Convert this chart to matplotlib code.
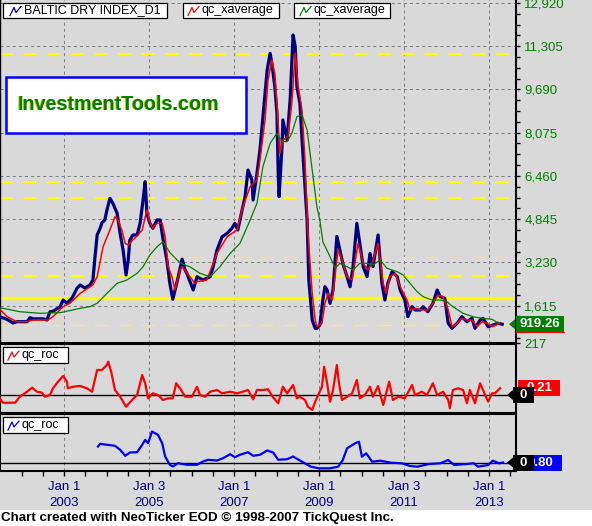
import matplotlib
matplotlib.use("Agg")
import matplotlib.pyplot as plt
from matplotlib.patches import Rectangle, Polygon
from matplotlib.lines import Line2D

# ---------------------------------------------------------------------------
# Data (decimal years, index values)
# ---------------------------------------------------------------------------
bdi_t = [2001.49, 2001.66, 2001.80, 2001.89, 2002.13, 2002.20, 2002.27, 2002.51, 2002.60,
         2002.67, 2002.74, 2002.91, 2002.98, 2003.07, 2003.19, 2003.31, 2003.38, 2003.49,
         2003.61, 2003.68, 2003.73, 2003.78, 2003.85, 2003.89, 2003.96, 2004.01, 2004.08,
         2004.15, 2004.25, 2004.32, 2004.39, 2004.46, 2004.51, 2004.55, 2004.62, 2004.72,
         2004.79, 2004.86, 2004.91, 2004.95, 2005.02, 2005.09, 2005.19, 2005.26, 2005.33,
         2005.42, 2005.49, 2005.56, 2005.66, 2005.78, 2005.85, 2005.89, 2006.04, 2006.13,
         2006.27, 2006.44, 2006.51, 2006.60, 2006.72, 2006.84, 2006.95, 2007.02, 2007.09,
         2007.19, 2007.26, 2007.33, 2007.42, 2007.45, 2007.54, 2007.61, 2007.68, 2007.78,
         2007.85, 2007.89, 2007.96, 2008.01, 2008.04, 2008.06, 2008.13, 2008.15, 2008.25,
         2008.32, 2008.39, 2008.44, 2008.48, 2008.55, 2008.62, 2008.72, 2008.76, 2008.84,
         2008.91, 2008.95, 2009.02, 2009.09, 2009.14, 2009.19, 2009.26, 2009.33, 2009.42,
         2009.49, 2009.56, 2009.66, 2009.73, 2009.80, 2009.89, 2009.96, 2010.04, 2010.13,
         2010.20, 2010.27, 2010.39, 2010.48, 2010.55, 2010.62, 2010.72, 2010.84, 2010.91,
         2011.02, 2011.09, 2011.19, 2011.26, 2011.38, 2011.45, 2011.56, 2011.68, 2011.78,
         2011.85, 2011.96, 2012.04, 2012.13, 2012.25, 2012.36, 2012.48, 2012.60, 2012.67,
         2012.79, 2012.86, 2012.98, 2013.09, 2013.21, 2013.31]
bdi = [1200, 1100, 965, 1013, 1013, 1162, 1120, 1120, 1076,
       1386, 1400, 1573, 1823, 1700, 1898, 2272, 2384, 2272,
       2384, 2570, 3441, 4252, 4502, 4700, 4813, 5186, 5623,
       5436, 5062, 4315, 3691, 2757, 3318, 4065, 4252, 4252,
       4689, 5560, 6245, 5062, 4689, 4502, 4813, 4813, 4100,
       3318, 2447, 1850, 2500, 3350, 2944, 2821, 2197, 2694,
       2570, 2694, 3068, 3691, 4189, 4315, 4502, 4689, 4439,
       5186, 5683, 6680, 6306, 5560, 6556, 7427, 8672, 10416,
       11040, 10666, 9793, 8798, 6556, 5683, 7551, 8548, 7801,
       9295, 11724, 11287, 9793, 9171, 7302, 4813, 2570, 1076,
       766, 766, 889, 1823, 2320, 2197, 1700, 2197, 4200,
       3691, 3194, 2694, 2320, 3068, 4689, 3940, 3068, 2694,
       3568, 3068, 4252, 2447, 1823, 2447, 2881, 2694, 2197,
       1823, 1200, 1573, 1450, 1450, 1573, 1386, 1700, 2197,
       1947, 1887, 953, 766, 953, 1200, 1013, 1138, 766,
       1076, 1138, 826, 889, 953, 919]

fast_t = [2001.49, 2001.66, 2001.89, 2002.13, 2002.27, 2002.62, 2002.74, 2002.98, 2003.14,
          2003.38, 2003.68, 2003.78, 2003.92, 2004.08, 2004.20, 2004.27, 2004.36, 2004.44,
          2004.51, 2004.62, 2004.74, 2004.84, 2004.95, 2005.02, 2005.09, 2005.19, 2005.31,
          2005.38, 2005.45, 2005.54, 2005.61, 2005.73, 2005.78, 2005.96, 2006.08, 2006.13,
          2006.36, 2006.60, 2006.84, 2007.07, 2007.21, 2007.38, 2007.54, 2007.61, 2007.73,
          2007.80, 2007.89, 2007.96, 2008.01, 2008.08, 2008.15, 2008.27, 2008.36, 2008.44,
          2008.51, 2008.60, 2008.67, 2008.74, 2008.84, 2008.91, 2008.95, 2009.02, 2009.07,
          2009.14, 2009.19, 2009.21, 2009.31, 2009.42, 2009.45, 2009.54, 2009.66, 2009.78,
          2009.92, 2010.04, 2010.15, 2010.25, 2010.39, 2010.51, 2010.58, 2010.67, 2010.79,
          2010.91, 2011.07, 2011.14, 2011.26, 2011.42, 2011.56, 2011.68, 2011.80, 2011.92,
          2012.04, 2012.13, 2012.25, 2012.36, 2012.48, 2012.60, 2012.72, 2012.84, 2012.95,
          2013.09, 2013.26]
fast_avg = [1476, 1200, 1013, 1013, 1076, 1076, 1200, 1573, 1700,
            2074, 2384, 2694, 3815, 4439, 4936, 4813, 4439, 3940,
            3878, 4065, 4252, 4439, 5186, 4751, 4502, 4689, 4689,
            4189, 3068, 2694, 2200, 2944, 3068, 2694, 2447, 2507,
            2570, 3568, 4189, 4439, 5309, 6058, 6306, 7053, 8548,
            10043, 10790, 10292, 9171, 7302, 7801, 7925, 9171, 11040,
            9793, 8922, 7053, 4315, 2074, 1076, 826, 889, 953,
            1700, 1947, 2074, 1823, 3318, 3691, 3318, 2694, 2570,
            3940, 3194, 2944, 3194, 3940, 2447, 2074, 2694, 2819,
            2320, 1823, 1450, 1512, 1450, 1450, 1700, 2010, 1947,
            1450, 826, 953, 1138, 1076, 1076, 826, 1013, 953,
            826, 976]

slow_t = [2001.49, 2001.96, 2002.44, 2002.91, 2003.38, 2003.61, 2003.78, 2004.01, 2004.25,
          2004.48, 2004.72, 2004.86, 2005.02, 2005.19, 2005.33, 2005.49, 2005.66, 2005.80,
          2005.96, 2006.20, 2006.44, 2006.67, 2006.91, 2007.14, 2007.38, 2007.54, 2007.68,
          2007.85, 2008.01, 2008.13, 2008.25, 2008.36, 2008.48, 2008.60, 2008.72, 2008.84,
          2008.95, 2009.02, 2009.09, 2009.26, 2009.38, 2009.49, 2009.66, 2009.80, 2009.96,
          2010.13, 2010.27, 2010.44, 2010.60, 2010.84, 2010.98, 2011.14, 2011.31, 2011.45,
          2011.66, 2011.85, 2012.01, 2012.15, 2012.39, 2012.62, 2012.86, 2013.07, 2013.21]
slow_avg = [1536, 1386, 1326, 1350, 1513, 1573, 1700, 2074, 2447,
            2570, 2819, 3068, 3504, 3815, 4002, 3600, 3318, 3150,
            3068, 2819, 2694, 3068, 3568, 3940, 4813, 5436, 6805,
            7676, 8050, 7738, 7738, 8050, 8672, 8735, 8175, 6680,
            5309, 4813, 4000, 3441, 3007, 3194, 3068, 2944, 3194,
            3194, 3131, 3318, 3007, 2881, 2757, 2447, 2133, 1947,
            1823, 1823, 1760, 1573, 1326, 1200, 1138, 1101, 976]

roc1_t = [2001.49, 2001.56, 2001.85, 2001.96, 2002.13, 2002.25, 2002.36, 2002.48, 2002.55,
          2002.67, 2002.74, 2002.86, 2002.98, 2003.07, 2003.09, 2003.21, 2003.38, 2003.54,
          2003.66, 2003.78, 2003.89, 2004.01, 2004.04, 2004.11, 2004.20, 2004.32, 2004.46,
          2004.60, 2004.72, 2004.84, 2004.91, 2004.98, 2005.09, 2005.21, 2005.33, 2005.45,
          2005.56, 2005.64, 2005.73, 2005.85, 2006.01, 2006.13, 2006.20, 2006.32, 2006.44,
          2006.60, 2006.72, 2006.91, 2007.07, 2007.21, 2007.33, 2007.45, 2007.54, 2007.68,
          2007.80, 2007.92, 2008.04, 2008.15, 2008.25, 2008.39, 2008.48, 2008.55, 2008.67,
          2008.74, 2008.84, 2008.91, 2008.98, 2009.07, 2009.12, 2009.19, 2009.26, 2009.33,
          2009.42, 2009.47, 2009.54, 2009.66, 2009.78, 2009.89, 2009.96, 2010.08, 2010.20,
          2010.27, 2010.39, 2010.51, 2010.65, 2010.74, 2010.86, 2011.02, 2011.19, 2011.26,
          2011.42, 2011.54, 2011.68, 2011.78, 2011.92, 2012.04, 2012.08, 2012.15, 2012.27,
          2012.39, 2012.48, 2012.55, 2012.67, 2012.79, 2012.91, 2012.98, 2013.07, 2013.14,
          2013.26]
roc1 = [-3.3, -7.7, -7.7, -1.7, 3.3, 7.3, 3.3, 2.3, -1.7,
        0, 6.7, 13.3, 19, 13.3, 6.7, 8.3, 9, 6.7,
        3.3, 25, 25, 30, 33.3, 23.3, 5, -1.7, -11.7,
        -5, 0, 20, 11.7, -3.3, 1.7, 0, -5, -3.3,
        -3.3, 11.7, 6.7, -1.7, -1.7, 8.3, 0, -1.7, 3.3,
        5, 1.7, 3.3, 1.7, 3.3, 5, -4.3, 5, 5,
        5.7, -2.3, -8.3, 8.3, 1.7, 10, -3.3, -1.7, -5,
        -11.7, -15, -6.7, 0, 8.3, 28.3, 11.7, -6.7, 5,
        30, 11.7, -5, -1.7, 1.7, 15, -3.3, 0, 8.3,
        -1.7, 9, -10, 13.3, -5, -1.7, -3.3, 10, 0,
        3.3, 0, 11.7, 0, 3.3, -5, -13.3, 5, 6.7,
        5, -8.3, 5, -8.3, 11.7, 0, -6.7, 1.7, 1.7,
        6.7]

roc2_t = [2003.80, 2003.85, 2004.01, 2004.20, 2004.32, 2004.44, 2004.55, 2004.72, 2004.84,
          2004.91, 2004.98, 2005.07, 2005.14, 2005.21, 2005.31, 2005.38, 2005.49, 2005.56,
          2005.68, 2005.89, 2006.13, 2006.27, 2006.39, 2006.60, 2006.74, 2006.91, 2007.02,
          2007.14, 2007.33, 2007.45, 2007.61, 2007.78, 2007.92, 2008.04, 2008.25, 2008.39,
          2008.55, 2008.81, 2009.00, 2009.26, 2009.45, 2009.56, 2009.66, 2009.85, 2009.94,
          2010.01, 2010.11, 2010.25, 2010.44, 2010.69, 2010.95, 2011.14, 2011.31, 2011.59,
          2011.85, 2012.04, 2012.18, 2012.48, 2012.64, 2012.74, 2012.98, 2013.09, 2013.24,
          2013.33]
roc2 = [16, 18.7, 17.7, 16.7, 12.7, 6.7, 10, 10.3, 17.7,
        22.7, 19.3, 31, 29.3, 27.7, 19.3, 6, -2.3, -4,
        -0.7, -2.3, -2.3, 1, 2.7, 2, 4.3, 8.3, 5.3,
        7.7, 10.3, 6.7, 7.7, 12, 10, 2.7, 3.3, 6,
        2, -4.2, -5.8, -5.8, -4.2, 2.5, 14.2, 19.2, 20.8,
        5.8, 9.2, 0.8, 1.8, -0.2, -0.8, -3.5, -4.2, -1.5,
        -0.8, 2.5, -2.5, -1.5, -0.8, -4.2, -2.5, 1.8, -0.8,
        0]

# horizontal yellow reference levels
level_vals = [11003, 6221, 5623, 3419, 2709, 1887, 889]
level_kind = ["dash", "dash", "dash", "thin", "dash", "solid", "thin"]

price_ticks = [217, 1615, 3230, 4845, 6460, 8075, 9690, 11305, 12920]
year_ticks = [2003, 2005, 2007, 2009, 2011, 2013]
year_labels = ["Jan 1\n2003", "Jan 3\n2005", "Jan 1\n2007", "Jan 1\n2009",
               "Jan 3\n2011", "Jan 1\n2013"]
last_labels = ["919.26", "0.21", "0.80"]

# ---------------------------------------------------------------------------
# Figure layout (pixel helpers)
# ---------------------------------------------------------------------------
W, H = 592, 526
BG = "#D9D9D9"
GREEN = "#008000"
NAVY = "#000080"

plt.rcParams["font.family"] = ["Liberation Sans", "DejaVu Sans"]
plt.rcParams["lines.scale_dashes"] = False


def fx(x):
    return x / W


def fy(y):
    return 1 - y / H


fig = plt.figure(figsize=(W / 100, H / 100), dpi=100, facecolor=BG)
fig.add_artist(Rectangle((0, 0), 1, fy(510), transform=fig.transFigure,
                         fc="white", ec="none", zorder=0))

X0, X1 = 2001.494, 2013.635
ax = fig.add_axes([0, fy(343), fx(516), 343 / H])
ax1 = fig.add_axes([0, fy(413), fx(516), 69 / H])
ax2 = fig.add_axes([0, fy(471), fx(516), 57 / H])

grid_kw = dict(color="#808080", lw=0.75, ls=(0, (2.2, 2.2)), zorder=1)

for a in (ax, ax1, ax2):
    a.set_facecolor(BG)
    a.set_xlim(X0, X1)
    for yr in year_ticks:
        a.axvline(yr, **grid_kw)
    for s in a.spines.values():
        s.set_color("black")
        s.set_linewidth(1.5)
    a.tick_params(bottom=False, labelbottom=False, left=False, labelleft=False)

# ---------------------------------------------------------------------------
# Main panel
# ---------------------------------------------------------------------------
ax.set_ylim(217, 13031)
ax.spines["top"].set_visible(False)
ax.spines["left"].set_linewidth(1.0)
for v in price_ticks[1:]:
    ax.axhline(v, **grid_kw)
for v, kind in zip(level_vals, level_kind):
    if kind == "solid":
        ax.axhline(v, color="yellow", lw=2.4, zorder=2)
    elif kind == "thin":
        ax.axhline(v, color="yellow", lw=0.8, ls=(0, (9.5, 7.5)), zorder=2)
    else:
        ax.axhline(v, color="yellow", lw=1.5, ls=(0, (9.5, 7.5)), zorder=2)

ax.plot(bdi_t, bdi, color=NAVY, lw=2.3, zorder=3)
ax.plot(fast_t, fast_avg, color="red", lw=1.1, zorder=4)
ax.plot(slow_t, slow_avg, color=GREEN, lw=0.9, zorder=5)

ax.yaxis.tick_right()
ax.set_yticks(price_ticks, [f"{v:,}" for v in price_ticks])
ax.set_yticks([1615 + 403.75 * k for k in range(-3, 29) if 217 < 1615 + 403.75 * k < 13031
               and k % 4 != 0], minor=True)
ax.tick_params(axis="y", which="both", right=True, labelright=True, direction="out",
               length=3, width=1, color="black", labelcolor=GREEN, labelsize=9.5, pad=3)

# ---------------------------------------------------------------------------
# ROC panels
# ---------------------------------------------------------------------------
ax1.set_ylim(-18, 51)
ax1.axhline(0, color="black", lw=1, zorder=2)
ax1.plot(roc1_t, roc1, color="red", lw=1.6, zorder=3)

ax2.set_ylim(-8.5, 48.5)
ax2.axhline(0, color="black", lw=1, zorder=2)
ax2.plot(roc2_t, roc2, color="blue", lw=1.6, zorder=3)

ax2.set_xticks(year_ticks, year_labels)
ax2.set_xticks([2002 + 0.5 * k for k in range(24)], minor=True)
ax2.tick_params(axis="x", which="both", bottom=True, labelbottom=True, direction="out",
                length=3.5, width=1, color="black", labelcolor=NAVY, labelsize=9.5, pad=4)
for lab in ax2.get_xticklabels():
    lab.set_linespacing(1.4)

# ---------------------------------------------------------------------------
# Legend boxes, logo, value tags
# ---------------------------------------------------------------------------
def legend_box(x0, x1, y0, y1, icon_x, color, text):
    fig.add_artist(Rectangle((fx(x0), fy(y1)), fx(x1) - fx(x0), (y1 - y0) / H,
                             transform=fig.transFigure, fc="white", ec="black",
                             lw=0.9, zorder=10))
    yc = (y0 + y1) / 2
    xs = [icon_x, icon_x + 4, icon_x + 6, icon_x + 11]
    ys = [yc + 5, yc - 3, yc + 2, yc - 4]
    fig.add_artist(Line2D([fx(v) for v in xs], [fy(v) for v in ys],
                          transform=fig.transFigure, color=color, lw=0.9, zorder=11))
    fig.text(fx(icon_x + 14), fy(yc), text, fontsize=9, va="center", ha="left",
             color="black", zorder=11)


legend_box(3, 167, 3, 18, 10, NAVY, "BALTIC DRY INDEX_D1")
legend_box(183, 279, 3, 18, 188, "red", "qc_xaverage")
legend_box(294, 390, 3, 18, 300, GREEN, "qc_xaverage")
legend_box(3, 68, 347, 363, 8, "red", "qc_roc")
legend_box(3, 68, 417, 433, 8, "blue", "qc_roc")

fig.add_artist(Rectangle((fx(6), fy(133)), fx(246) - fx(6), (133 - 77) / H,
                         transform=fig.transFigure, fc="white", ec="blue",
                         lw=1.8, zorder=10))
fig.text(fx(17), fy(104), "InvestmentTools.com", fontsize=14.2, fontweight="bold",
         color="#C8C800", va="center", ha="left", zorder=11)
fig.text(fx(18), fy(104), "InvestmentTools.com", fontsize=14.2, fontweight="bold",
         color=GREEN, va="center", ha="left", zorder=12)


def y_px(a, val):
    # pixel row (from the top) of a data value on axes a
    return H - a.transData.transform((X0, val))[1]


def tag(y, x0, x1, color, text, z=20):
    fig.add_artist(Rectangle((fx(x0), fy(y + 8)), fx(x1) - fx(x0), 16 / H,
                             transform=fig.transFigure, fc=color, ec="none", zorder=z))
    fig.text(fx((x0 + x1) / 2), fy(y), text, fontsize=9.5, fontweight="bold",
             color="white", ha="center", va="center", zorder=z + 1)


def arrow(y, x_tip, color, z=22):
    fig.add_artist(Polygon([(fx(x_tip), fy(y)), (fx(x_tip + 6), fy(y - 5)),
                            (fx(x_tip + 6), fy(y + 5))], closed=True,
                           transform=fig.transFigure, fc=color, ec="none", zorder=z))


yg = y_px(ax, 919.26)
arrow(yg, 509, GREEN)
tag(yg, 516, 564, GREEN, last_labels[0])
fig.add_artist(Line2D([fx(516), fx(564)], [fy(yg + 8), fy(yg + 8)],
                      transform=fig.transFigure, color="red", lw=0.8, zorder=22))

yr1 = y_px(ax1, roc1[-1])
y01 = y_px(ax1, 0)
tag(yr1, 518, 560, "red", last_labels[1])
arrow(y01, 507, "black", z=24)
tag(y01, 513, 534, "black", "0", z=24)

yr2 = y_px(ax2, roc2[-1])
y02 = y_px(ax2, 0)
tag(yr2, 519, 562, "blue", last_labels[2])
arrow(y02, 507, "black", z=24)
tag(y02, 513, 534, "black", "0", z=24)

fig.text(fx(1), fy(518), "Chart created with NeoTicker EOD \u00a9 1998-2007 TickQuest Inc.",
         fontsize=9.6, fontweight="bold", color="black", ha="left", va="center")

fig.savefig("out.png", dpi=100, facecolor=BG)
